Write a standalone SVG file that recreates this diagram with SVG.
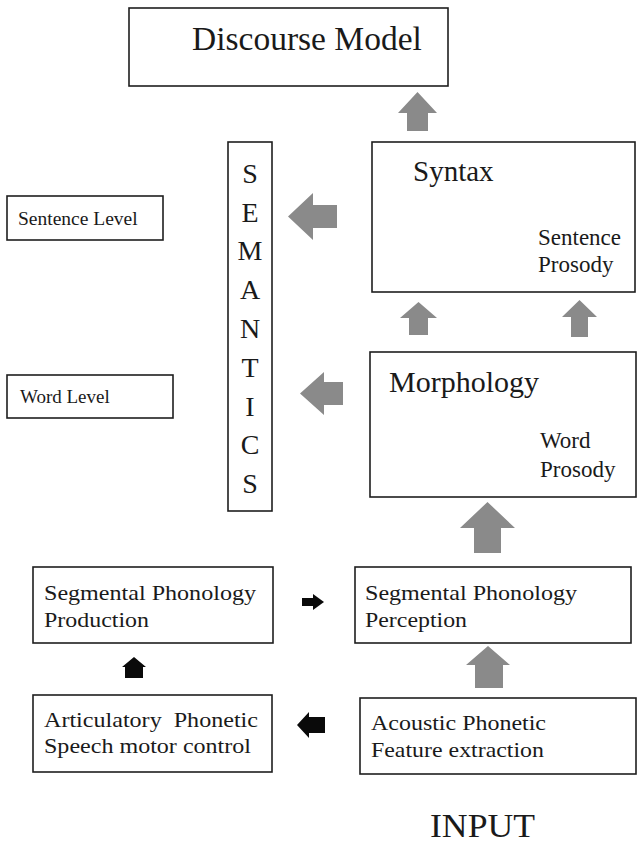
<svg xmlns="http://www.w3.org/2000/svg" width="637" height="846" viewBox="0 0 637 846" font-family="'Liberation Serif', 'DejaVu Serif', serif">
  <style>
    .box { fill: #ffffff; stroke: #1e1e1e; stroke-width: 1.6; }
    .t { font-family: 'Liberation Serif', 'DejaVu Serif', serif; fill: #1a1a1a; }
    .gray { fill: #8a8a8a; }
    .black { fill: #0a0a0a; }
  </style>
  <rect width="637" height="846" fill="#ffffff"/>

  <g id="discourse-model">
    <rect class="box" x="129" y="8" width="319" height="78"/>
    <text class="t" x="192" y="50" font-size="33.5">Discourse Model</text>
  </g>

  <g id="syntax">
    <rect class="box" x="372" y="142" width="263" height="150"/>
    <text class="t" x="413" y="181" font-size="29">Syntax</text>
    <text class="t" x="538" y="245" font-size="23">Sentence</text>
    <text class="t" x="538" y="272" font-size="23">Prosody</text>
  </g>

  <g id="semantics">
    <rect class="box" x="228" y="142" width="44" height="369"/>
    <g font-size="28" text-anchor="middle">
      <text class="t" x="250" y="183">S</text>
      <text class="t" x="250" y="222">E</text>
      <text class="t" x="250" y="260">M</text>
      <text class="t" x="250" y="299">A</text>
      <text class="t" x="250" y="338">N</text>
      <text class="t" x="250" y="377">T</text>
      <text class="t" x="250" y="416">I</text>
      <text class="t" x="250" y="454">C</text>
      <text class="t" x="250" y="493">S</text>
    </g>
  </g>

  <g id="sentence-level">
    <rect class="box" x="7" y="196" width="156" height="44"/>
    <text class="t" x="18" y="225" font-size="19.5">Sentence Level</text>
  </g>

  <g id="word-level">
    <rect class="box" x="7" y="375" width="166" height="43"/>
    <text class="t" x="20" y="403" font-size="19">Word Level</text>
  </g>

  <g id="morphology">
    <rect class="box" x="370" y="352" width="266" height="145"/>
    <text class="t" x="389" y="392" font-size="30">Morphology</text>
    <text class="t" x="540" y="448" font-size="23">Word</text>
    <text class="t" x="540" y="477" font-size="23">Prosody</text>
  </g>

  <g id="segmental-production">
    <rect class="box" x="33" y="567" width="240" height="76"/>
    <text class="t" x="44" y="600" font-size="22" textLength="212" lengthAdjust="spacingAndGlyphs">Segmental Phonology</text>
    <text class="t" x="44" y="627" font-size="22" textLength="105" lengthAdjust="spacingAndGlyphs">Production</text>
  </g>

  <g id="segmental-perception">
    <rect class="box" x="355" y="567" width="276" height="76"/>
    <text class="t" x="365" y="600" font-size="22" textLength="212" lengthAdjust="spacingAndGlyphs">Segmental Phonology</text>
    <text class="t" x="365" y="627" font-size="22" textLength="102" lengthAdjust="spacingAndGlyphs">Perception</text>
  </g>

  <g id="articulatory-phonetic">
    <rect class="box" x="33" y="695" width="239" height="77"/>
    <text class="t" x="44" y="727" font-size="22" textLength="214" lengthAdjust="spacingAndGlyphs" xml:space="preserve">Articulatory  Phonetic</text>
    <text class="t" x="44" y="753" font-size="22" textLength="207" lengthAdjust="spacingAndGlyphs">Speech motor control</text>
  </g>

  <g id="acoustic-phonetic">
    <rect class="box" x="360" y="698" width="276" height="76"/>
    <text class="t" x="371" y="730" font-size="22" textLength="175" lengthAdjust="spacingAndGlyphs">Acoustic Phonetic</text>
    <text class="t" x="371" y="757" font-size="22" textLength="173" lengthAdjust="spacingAndGlyphs">Feature extraction</text>
  </g>

  <g id="input">
    <text class="t" x="430" y="837" font-size="33" textLength="105" lengthAdjust="spacingAndGlyphs">INPUT</text>
  </g>

  <g id="connectors">
    <!-- syntax to discourse model -->
    <polygon class="gray" points="417.5,92 437,113 428,113 428,131 407,131 407,113 398,113"/>
    <!-- syntax to semantics (sentence level) -->
    <polygon class="gray" points="288,216.5 313,193 313,205 337,205 337,228 313,228 313,240"/>
    <!-- morphology to syntax -->
    <polygon class="gray" points="418.5,302 437,318 428,318 428,335 409,335 409,318 400,318"/>
    <polygon class="gray" points="579.5,300 597,317 588,317 588,337 571,337 571,317 562,317"/>
    <!-- morphology to semantics (word level) -->
    <polygon class="gray" points="300,393.5 324,372 324,382 343,382 343,405 324,405 324,415"/>
    <!-- segmental perception to morphology -->
    <polygon class="gray" points="487.5,502 515,528 501,528 501,553 474,553 474,528 460,528"/>
    <!-- acoustic phonetic to segmental perception -->
    <polygon class="gray" points="488,646 510,665 503,665 503,688 475,688 475,665 466,665"/>
    <!-- production side -->
    <polygon class="black" points="134,657 146,667 143,667 143,678 125,678 125,667 122,667"/>
    <polygon class="black" points="324,602 313,594 313,598 302,598 302,606 313,606 313,610"/>
    <polygon class="black" points="297,725 309,712 309,717 325,717 325,733 309,733 309,738"/>
  </g>
</svg>
